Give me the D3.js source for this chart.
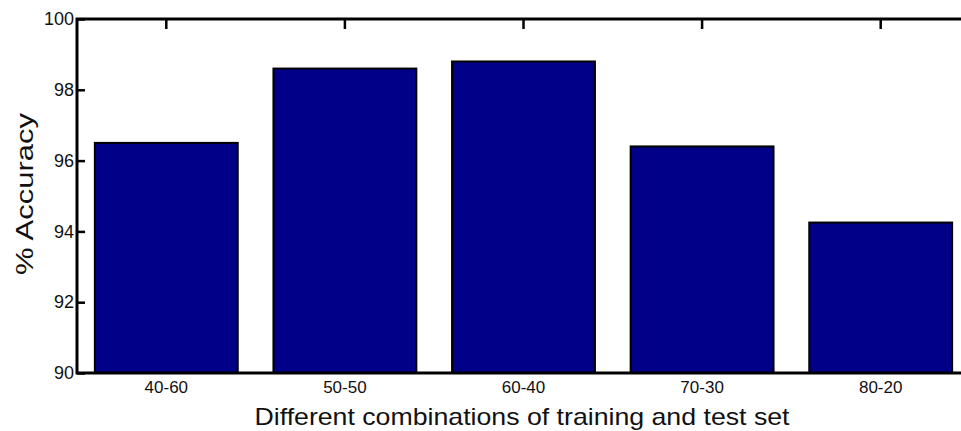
<!DOCTYPE html>
<html>
<head>
<meta charset="utf-8">
<script src="https://cdn.jsdelivr.net/npm/d3@7"></script>
<style>
  html, body { margin: 0; padding: 0; background: #fff; }
  svg { display: block; }
  text { font-family: "Liberation Sans", Arial, sans-serif; fill: #111; }
</style>
</head>
<body>
<svg id="chart" width="961" height="431"></svg>
<script>
const categories = ["40-60", "50-50", "60-40", "70-30", "80-20"];
const accuracy = [96.5, 98.6, 98.8, 96.4, 94.25];
const yTicks = [90, 92, 94, 96, 98, 100];
const xTitle = "Different combinations of training and test set";
const yTitle = "% Accuracy";

const svg = d3.select("#chart");
const mLeft = 77, mRight = 970, mTop = 19, mBottom = 373;

const x = d3.scaleBand().domain(categories).range([mLeft, mRight])
  .paddingInner(0.2).paddingOuter(0.1);
const y = d3.scaleLinear().domain([90, 100]).range([mBottom, mTop]);

// bars
svg.append("g").selectAll("rect").data(categories).join("rect")
  .attr("x", d => x(d))
  .attr("y", (d, i) => y(accuracy[i]))
  .attr("width", x.bandwidth())
  .attr("height", (d, i) => y(90) - y(accuracy[i]))
  .attr("fill", "#000088")
  .attr("stroke", "#000")
  .attr("stroke-width", 2);

// left axis
const yAxis = svg.append("g").attr("transform", `translate(${mLeft},0)`)
  .call(d3.axisLeft(y).tickValues(yTicks).tickSize(-8).tickPadding(4).tickFormat(d3.format("d")));
yAxis.select(".domain").remove();
yAxis.selectAll(".tick line").attr("stroke", "#000").attr("stroke-width", 2.5);
yAxis.selectAll(".tick text").attr("font-size", 18).attr("x", -3)
  .style("font-family", "'Liberation Sans', Arial, sans-serif").attr("fill", "#222");

// top axis ticks
const topAxis = svg.append("g").attr("transform", `translate(0,${mTop})`)
  .call(d3.axisTop(x).tickSize(-10).tickFormat(""));
topAxis.select(".domain").remove();
topAxis.selectAll(".tick line").attr("stroke", "#000").attr("stroke-width", 2.5);

// bottom axis labels
const bAxis = svg.append("g").attr("transform", `translate(0,${mBottom})`)
  .call(d3.axisBottom(x).tickSize(0).tickPadding(8));
bAxis.select(".domain").remove();
bAxis.selectAll(".tick text").attr("font-size", 17)
  .style("font-family", "'Liberation Sans', Arial, sans-serif").attr("fill", "#222");

// frame
svg.append("path")
  .attr("d", `M${mLeft},${mTop}H${mRight}V${mBottom}H${mLeft}Z`)
  .attr("fill", "none").attr("stroke", "#000").attr("stroke-width", 3);

// titles
svg.append("text")
  .attr("x", 522).attr("y", 425)
  .attr("text-anchor", "middle")
  .attr("font-size", 24)
  .attr("textLength", 535).attr("lengthAdjust", "spacingAndGlyphs")
  .text(xTitle);

svg.append("text")
  .attr("transform", "translate(33,194) rotate(-90) scale(1,0.82)")
  .attr("text-anchor", "middle")
  .attr("font-size", 30)
  .attr("textLength", 162).attr("lengthAdjust", "spacingAndGlyphs")
  .text(yTitle);
</script>
</body>
</html>
